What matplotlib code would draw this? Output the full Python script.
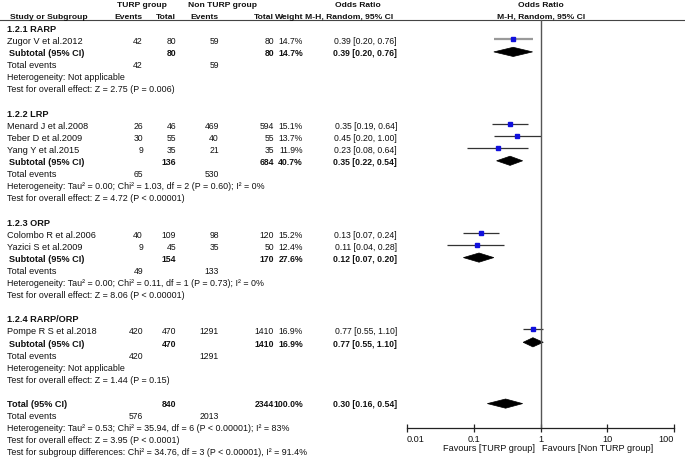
import matplotlib
matplotlib.use("Agg")
import matplotlib.pyplot as plt
from matplotlib.patches import Polygon

plt.rcParams['font.family'] = ['Liberation Sans', 'DejaVu Sans']

# ---------------- data ----------------
studies = ['Zugor V et al.2012', 'Menard J et al.2008', 'Teber D et al.2009',
           'Yang Y et al.2015', 'Colombo R et al.2006', 'Yazici S et al.2009',
           'Pompe R S et al.2018']
study_group = [0, 1, 1, 1, 2, 2, 3]
turp_events = [42, 26, 30, 9, 40, 9, 420]
turp_total = [80, 46, 55, 35, 109, 45, 470]
non_events = [59, 469, 40, 21, 98, 35, 1291]
non_total = [80, 594, 55, 35, 120, 50, 1410]
weights = [14.7, 15.1, 13.7, 11.9, 15.2, 12.4, 16.9]
or_est = [0.39, 0.35, 0.45, 0.23, 0.13, 0.11, 0.77]
ci_low = [0.20, 0.19, 0.20, 0.08, 0.07, 0.04, 0.55]
ci_high = [0.76, 0.64, 1.00, 0.64, 0.24, 0.28, 1.10]

subgroups = ['1.2.1 RARP', '1.2.2 LRP', '1.2.3 ORP', '1.2.4 RARP/ORP']
sub_turp_total = [80, 136, 154, 470]
sub_non_total = [80, 684, 170, 1410]
sub_weight = [14.7, 40.7, 27.6, 16.9]
sub_or = [0.39, 0.35, 0.12, 0.77]
sub_low = [0.20, 0.22, 0.07, 0.55]
sub_high = [0.76, 0.54, 0.20, 1.10]
sub_turp_events = [42, 65, 49, 420]
sub_non_events = [59, 530, 133, 1291]
sub_het = ['Heterogeneity: Not applicable',
           'Heterogeneity: Tau\u00b2 = 0.00; Chi\u00b2 = 1.03, df = 2 (P = 0.60); I\u00b2 = 0%',
           'Heterogeneity: Tau\u00b2 = 0.00; Chi\u00b2 = 0.11, df = 1 (P = 0.73); I\u00b2 = 0%',
           'Heterogeneity: Not applicable']
sub_test = ['Test for overall effect: Z = 2.75 (P = 0.006)',
            'Test for overall effect: Z = 4.72 (P < 0.00001)',
            'Test for overall effect: Z = 8.06 (P < 0.00001)',
            'Test for overall effect: Z = 1.44 (P = 0.15)']

total_turp_total = 840
total_non_total = 2344
total_weight = 100.0
total_or, total_low, total_high = 0.30, 0.16, 0.54
total_turp_events = 576
total_non_events = 2013
total_het = 'Heterogeneity: Tau\u00b2 = 0.53; Chi\u00b2 = 35.94, df = 6 (P < 0.00001); I\u00b2 = 83%'
total_test = 'Test for overall effect: Z = 3.95 (P < 0.0001)'
subgroup_test = 'Test for subgroup differences: Chi\u00b2 = 34.76, df = 3 (P < 0.00001), I\u00b2 = 91.4%'

tick_values = [0.01, 0.1, 1, 10, 100]
tick_labels = ['0.01', '0.1', '1', '10', '100']
favours_left = 'Favours [TURP group]'
favours_right = 'Favours [Non TURP group]'

# ---------------- layout ----------------
W, H = 685, 460
fig = plt.figure(figsize=(W / 100, H / 100), dpi=100)
ax = fig.add_axes([0, 0, 1, 1])
ax.set_xlim(0, W)
ax.set_ylim(H, 0)
ax.axis('off')

PX0, PX1 = 407, 674
fax = fig.add_axes([PX0 / W, 0, (PX1 - PX0) / W, 1])
fax.set_xscale('log')
fax.set_xlim(0.01, 100)
fax.set_ylim(H, 0)
fax.patch.set_alpha(0)

FS = 6.6      # names / labels
FSL = 6.4     # long statistic lines
FSH = 6.1     # header
FSN = 6.2     # numbers
Y0, DY = 29.5, 12.1


def ry(i):
    return Y0 + DY * i


X_NAME = 7.5
X_TE, X_TT, X_NE, X_NT, X_W, X_OR = 143, 176, 219, 274, 303, 397
TXT_COLOR = '#111111'


def txt(x, y, s, ha='left', bold=False, size=FS):
    ax.text(x, y, s, ha=ha, va='center', fontsize=size,
            fontweight='bold' if bold else 'normal', color=TXT_COLOR)


def num(x, y, s, bold=False):
    txt(x, y, s, ha='right', bold=bold, size=FSN)


# headers
txt(117, ry(-2), 'TURP group', bold=True, size=FSH)
txt(188, ry(-2), 'Non TURP group', bold=True, size=FSH)
txt(358, ry(-2), 'Odds Ratio', ha='center', bold=True, size=FSH)
txt(541, ry(-2), 'Odds Ratio', ha='center', bold=True, size=FSH)
txt(10.5, ry(-1), 'Study or Subgroup', bold=True, size=FSH)
txt(X_TE, ry(-1), 'Events', ha='right', bold=True, size=FSH)
txt(X_TT, ry(-1), 'Total', ha='right', bold=True, size=FSH)
txt(X_NE, ry(-1), 'Events', ha='right', bold=True, size=FSH)
txt(273.5, ry(-1), 'Total', ha='right', bold=True, size=FSH)
txt(303, ry(-1), 'Weight', ha='right', bold=True, size=FSH)
txt(349, ry(-1), 'M-H, Random, 95% CI', ha='center', bold=True, size=FSH)
txt(541, ry(-1), 'M-H, Random, 95% CI', ha='center', bold=True, size=FSH)
ax.plot([0, W], [20.8, 20.8], color='#444444', lw=0.8)


def diamond(est, lo, hi, y):
    hh = 4.6
    poly = Polygon([[lo, y], [est, y - hh], [hi, y], [est, y + hh]],
                   closed=True, facecolor='black', edgecolor='black', lw=0.5)
    fax.add_patch(poly)


row = 0
for g, name in enumerate(subgroups):
    txt(X_NAME, ry(row), name, bold=True)
    row += 1
    for k in range(len(studies)):
        if study_group[k] != g:
            continue
        y = ry(row)
        txt(X_NAME, y, studies[k])
        num(X_TE, y, str(turp_events[k]))
        num(X_TT, y, str(turp_total[k]))
        num(X_NE, y, str(non_events[k]))
        num(X_NT, y, str(non_total[k]))
        num(X_W, y, f'{weights[k]:.1f}%')
        num(X_OR, y, f'{or_est[k]:.2f} [{ci_low[k]:.2f}, {ci_high[k]:.2f}]')
        lc, lw = ('#9a9a9a', 1.6) if k == 0 else ('#333333', 0.9)
        fax.plot([ci_low[k], ci_high[k]], [y - 1.6, y - 1.6], color=lc, lw=lw,
                 solid_capstyle='butt')
        fax.plot([or_est[k]], [y - 1.6], marker='s', ms=3.2, color='#1010dd',
                 mec='#1010dd', lw=0)
        row += 1
    y = ry(row)
    txt(X_NAME + 2, y, 'Subtotal (95% CI)', bold=True)
    num(X_TT, y, str(sub_turp_total[g]), bold=True)
    num(X_NT, y, str(sub_non_total[g]), bold=True)
    num(X_W, y, f'{sub_weight[g]:.1f}%', bold=True)
    num(X_OR, y, f'{sub_or[g]:.2f} [{sub_low[g]:.2f}, {sub_high[g]:.2f}]', bold=True)
    diamond(sub_or[g], sub_low[g], sub_high[g], y - 0.8)
    row += 1
    y = ry(row)
    txt(X_NAME, y, 'Total events')
    num(X_TE, y, str(sub_turp_events[g]))
    num(X_NE, y, str(sub_non_events[g]))
    row += 1
    txt(X_NAME, ry(row), sub_het[g], size=FSL)
    row += 1
    txt(X_NAME, ry(row), sub_test[g], size=FSL)
    row += 2

y = ry(row)
txt(X_NAME, y, 'Total (95% CI)', bold=True)
num(X_TT, y, str(total_turp_total), bold=True)
num(X_NT, y, str(total_non_total), bold=True)
num(X_W, y, f'{total_weight:.1f}%', bold=True)
num(X_OR, y, f'{total_or:.2f} [{total_low:.2f}, {total_high:.2f}]', bold=True)
diamond(total_or, total_low, total_high, y)
row += 1
y = ry(row)
txt(X_NAME, y, 'Total events')
num(X_TE, y, str(total_turp_events))
num(X_NE, y, str(total_non_events))
row += 1
txt(X_NAME, ry(row), total_het, size=FSL)
row += 1
txt(X_NAME, ry(row), total_test, size=FSL)
row += 1
txt(X_NAME, ry(row), subgroup_test, size=FSL)

# forest axis
AXIS_Y = 428.5
fax.plot([1, 1], [20.8, AXIS_Y], color='#555555', lw=1.0)
for s in ['top', 'left', 'right']:
    fax.spines[s].set_visible(False)
fax.spines['bottom'].set_position(('data', AXIS_Y))
fax.spines['bottom'].set_color('#222222')
fax.spines['bottom'].set_linewidth(0.9)
fax.set_yticks([])
fax.set_xticks(tick_values)
fax.set_xticklabels(tick_labels)
fax.minorticks_off()
fax.tick_params(axis='x', direction='inout', length=6, width=0.9, color='#222222',
                labelsize=FS, pad=1.5, labelcolor=TXT_COLOR)
labels = fax.get_xticklabels()
labels[0].set_ha('left')
labels[-1].set_ha('right')
fax.text(0.84, 449, favours_left, ha='right', va='center', fontsize=FS, color=TXT_COLOR)
fax.text(1.06, 449, favours_right, ha='left', va='center', fontsize=FS, color=TXT_COLOR)

fig.savefig('out.png', dpi=100)
